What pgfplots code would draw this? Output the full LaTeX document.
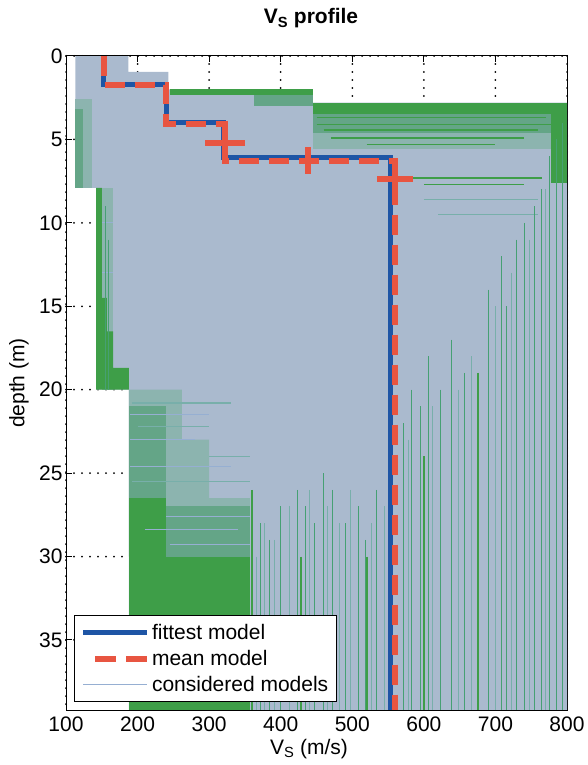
\documentclass[border=0pt]{standalone}
\usepackage{fontspec}
\setmainfont{Liberation Sans}
\usepackage{pgfplots}
\pgfplotsset{compat=1.18}
\definecolor{bg}{RGB}{170,186,206}
\definecolor{bgline}{RGB}{150,175,210}
\definecolor{gr}{RGB}{62,158,72}
\definecolor{mixg}{RGB}{100,165,135}
\definecolor{mixl}{RGB}{140,180,175}
\definecolor{lgr}{RGB}{70,160,115}
\definecolor{tl}{RGB}{120,175,170}
\definecolor{fitblue}{RGB}{30,85,165}
\definecolor{meanred}{RGB}{232,85,65}
\begin{document}
\begin{tikzpicture}[x=1pt,y=1pt]
\path[use as bounding box] (0,0) rectangle (587,765);
\begin{axis}[
  at={(66pt,55pt)}, anchor=south west,
  scale only axis, width=501pt, height=654pt,
  xmin=100, xmax=800, ymin=0, ymax=39.2, y dir=reverse,
  xtick={100,200,...,800}, ytick={0,5,...,35},
  grid=major,
  major grid style={black, line width=2pt, dash pattern=on 0pt off 8pt, line cap=round},
  tick align=inside, major tick length=6pt,
  tick style={black, line width=1pt},
  axis line style={black, line width=1pt},
  unbounded coords=jump,
  /pgf/number format/assume math mode=true,
  ticklabel style={font=\fontsize{21}{25}\selectfont},
  xticklabel style={anchor=base, yshift=-21pt},
  title={\bfseries V\textsubscript{S} profile},
  title style={at={(axis description cs:0.489,1.0398)}, anchor=base, inner sep=0pt, font=\fontsize{21}{25}\selectfont},
  xlabel={V\textsubscript{S} (m/s)},
  xlabel style={at={(axis description cs:0.485,-0.0673)}, anchor=base, inner sep=0pt, font=\fontsize{21}{25}\selectfont},
  ylabel={depth (m)},
  ylabel style={at={(axis description cs:-0.083,0.5)}, anchor=base, inner sep=0pt, font=\fontsize{21}{25}\selectfont},
  legend style={at={(axis description cs:0.016,0.012)}, anchor=south west, draw=black, line width=1pt, fill=white,
    font=\fontsize{21}{23}\selectfont, inner xsep=6pt, inner ysep=7pt, row sep=5pt},
  legend cell align=left,
]
% envelope of the considered models
\addplot[fill=bg, draw=none, forget plot] coordinates {(113,0) (187,0) (187,0.95) (243,0.95) (243,2.0) (445,2.0) (445,2.8) (800,2.8) (800,39.2) (188,39.2) (188,20) (142,20) (142,7.9) (113,7.9)};
% green (worse-fitting) models
\addplot[fill=gr, draw=none, forget plot] coordinates {(245,2.0) (445,2.0) (445,2.35) (245,2.35)};
\addplot[fill=mixg, draw=none, forget plot] coordinates {(362,2.35) (445,2.35) (445,3.0) (362,3.0)};
\addplot[fill=gr, draw=none, forget plot] coordinates {(445,2.8) (800,2.8) (800,3.45) (445,3.45)};
\addplot[fill=mixg, draw=none, forget plot] coordinates {(445,3.45) (790,3.45) (790,4.6) (445,4.6)};
\addplot[fill=mixl, draw=none, forget plot] coordinates {(445,4.6) (785,4.6) (785,5.6) (445,5.6)};
\addplot[fill=gr, draw=none, forget plot] coordinates {(778,2.8) (800,2.8) (800,7.6) (778,7.6)};
\addplot[fill=mixl, draw=none, forget plot] coordinates {(113,2.6) (136,2.6) (136,7.9) (113,7.9)};
\addplot[fill=mixg, draw=none, forget plot] coordinates {(113,3.2) (124,3.2) (124,7.9) (113,7.9)};
\addplot[fill=mixl, draw=none, forget plot] coordinates {(150,7.9) (165,7.9) (165,20) (150,20)};
\addplot[fill=gr, draw=none, forget plot] coordinates {(142,7.9) (150,7.9) (150,14.5) (157,14.5) (157,16.5) (166,16.5) (166,18.7) (188,18.7) (188,20) (142,20)};
\addplot[fill=mixl, draw=none, forget plot] coordinates {(188,20) (262,20) (262,23) (300,23) (300,26.5) (357,26.5) (357,30) (188,30)};
\addplot[fill=mixg, draw=none, forget plot] coordinates {(188,21) (240,21) (240,26.5) (188,26.5)};
\addplot[fill=mixg, draw=none, forget plot] coordinates {(240,27) (357,27) (357,30) (240,30)};
\addplot[fill=gr, draw=none, forget plot] coordinates {(188,26.5) (240,26.5) (240,30) (188,30)};
\addplot[fill=gr, draw=none, forget plot] coordinates {(188,30) (357,30) (357,39.2) (188,39.2)};
% horizontal lines of the considered models
\addplot[gr, line width=1.5pt, forget plot] coordinates {(450,3.7) (770,3.7) (nan,nan) (450,4.1) (780,4.1) (nan,nan) (460,4.45) (760,4.45) (nan,nan) (470,4.9) (740,4.9) (nan,nan) (520,5.3) (700,5.3) (nan,nan) (585,7.3) (765,7.3) (nan,nan) (600,7.7) (740,7.7)};
\addplot[tl, line width=1.2pt, forget plot] coordinates {(192,20.8) (330,20.8) (nan,nan) (200,22.2) (300,22.2) (nan,nan) (192,25.5) (357,25.5) (nan,nan) (300,24) (357,24) (nan,nan) (600,8.6) (760,8.6) (nan,nan) (620,9.5) (760,9.5)};
\addplot[bgline, line width=1pt, forget plot] coordinates {(190,21.5) (300,21.5) (nan,nan) (190,23) (280,23) (nan,nan) (190,24.6) (330,24.6) (nan,nan) (240,27.6) (357,27.6) (nan,nan) (210,28.4) (340,28.4) (nan,nan) (245,29.3) (357,29.3) (nan,nan) (150,10) (165,10) (nan,nan) (150,13) (165,13)};
% vertical lines of the considered models
\addplot[lgr, line width=1pt, forget plot] coordinates {
(372,28) (372,39.2) (nan,nan) (385,29) (385,39.2) (nan,nan) (400,27) (400,39.2) (nan,nan)
(423,26) (423,39.2) (nan,nan) (434,27) (434,39.2) (nan,nan) (447,28) (447,39.2) (nan,nan)
(460,25) (460,39.2) (nan,nan) (473,26) (473,39.2) (nan,nan) (490,28) (490,39.2) (nan,nan)
(508,27) (508,39.2) (nan,nan) (518,29) (518,39.2) (nan,nan) (534,26) (534,39.2) (nan,nan)
(571,22) (571,39.2) (nan,nan) (583,20) (583,39.2) (nan,nan) (595,21) (595,39.2) (nan,nan)
(606,18) (606,39.2) (nan,nan) (623,20) (623,39.2) (nan,nan) (639,17) (639,39.2) (nan,nan)
(657,19) (657,39.2) (nan,nan) (690,14) (690,39.2) (nan,nan) (709,12) (709,39.2) (nan,nan)
(716,15) (716,39.2) (nan,nan) (730,11) (730,39.2) (nan,nan) (741,10) (741,39.2) (nan,nan)
(755,9) (755,39.2) (nan,nan) (765,8) (765,39.2) (nan,nan) (776,6) (776,39.2) (nan,nan)
(786,5) (786,39.2) (nan,nan) (794,4) (794,39.2) (nan,nan) (155,9) (155,20) (nan,nan) (160,11) (160,20)};
\addplot[tl, line width=1pt, forget plot] coordinates {
(366,30) (366,39.2) (nan,nan) (378,28) (378,39.2) (nan,nan) (392,29) (392,39.2) (nan,nan)
(412,27) (412,39.2) (nan,nan) (440,26) (440,39.2) (nan,nan) (466,27) (466,39.2) (nan,nan)
(482,28) (482,39.2) (nan,nan) (498,26) (498,39.2) (nan,nan) (527,28) (527,39.2) (nan,nan)
(545,27) (545,39.2) (nan,nan) (578,23) (578,39.2) (nan,nan) (612,21) (612,39.2) (nan,nan)
(648,20) (648,39.2) (nan,nan) (666,18) (666,39.2) (nan,nan) (700,15) (700,39.2) (nan,nan)
(722,13) (722,39.2) (nan,nan) (748,11) (748,39.2) (nan,nan) (770,8) (770,39.2)};
\addplot[gr, line width=2pt, forget plot] coordinates {(676,19) (676,39.2) (nan,nan) (600,24) (600,39.2) (nan,nan) (520,30) (520,39.2) (nan,nan) (428,30) (428,39.2) (nan,nan) (360,26) (360,39.2)};
% fittest model
\addplot[fitblue, line width=5pt, forget plot] coordinates {(152,0) (152,1.7) (241,1.7) (241,4.0) (320,4.0) (320,6.1) (553,6.1) (553,39.2)};
% mean model
\addplot[meanred, line width=6pt, dash pattern=on 20pt off 10pt, forget plot] coordinates {(153,0) (153,1.75) (240,1.75) (240,4.05) (322,4.05) (322,6.3) (560,6.3) (560,39.2)};
\addplot[draw=none, forget plot, error bars/.cd, x dir=both, x explicit, y dir=both, y explicit, error mark=none,
  error bar style={meanred, line width=6pt, solid}] coordinates {(322,5.2) +- (28,0.8) (438,6.25) +- (0,0.8) (560,7.35) +- (25,0.6)};
\draw[black, line width=1pt] (rel axis cs:0,0) rectangle (rel axis cs:1,1);
\addlegendimage{legend image code/.code={\draw[fitblue, line width=5pt] (0pt,0pt) -- (64pt,0pt);}}
\addlegendentry{fittest model}
\addlegendimage{legend image code/.code={\draw[meanred, line width=6pt] (12pt,0pt) -- (33pt,0pt) (43pt,0pt) -- (64pt,0pt);}}
\addlegendentry{mean model}
\addlegendimage{legend image code/.code={\draw[bgline, line width=1pt] (0pt,0pt) -- (64pt,0pt);}}
\addlegendentry{considered models}
\end{axis}
\end{tikzpicture}
\end{document}
